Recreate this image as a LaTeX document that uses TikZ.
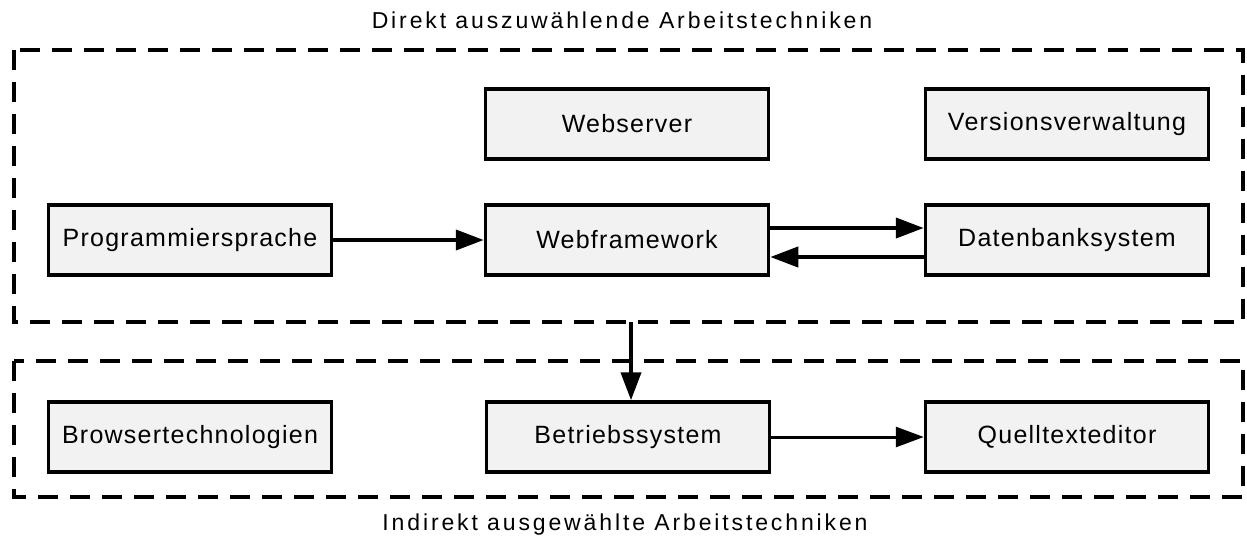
\documentclass[tikz,border=0pt]{standalone}
\usepackage{fontspec}
\setmainfont{Liberation Sans}
\newfontfamily\boxfont{Liberation Sans}[LetterSpace=5]
\newfontfamily\capfont{Liberation Sans}[LetterSpace=12.5]
\usetikzlibrary{arrows.meta}
\begin{document}
\begin{tikzpicture}[x=1pt,y=-1pt,
  box/.style={draw=black, line width=3.5pt, fill=black!5, rectangle,
    minimum width=283pt, minimum height=70pt, inner sep=0pt,
    font=\boxfont\fontsize{25}{30}\selectfont},
  group/.style={draw=black, line width=4pt, dash pattern=on 20pt off 12pt},
  heavy/.style={line width=4pt, -{Triangle[length=28pt,width=20pt]}},
  light/.style={line width=3pt, -{Triangle[length=28pt,width=20pt]}},
  caption/.style={font=\capfont\fontsize{23}{28}\selectfont, inner sep=0pt}]
\useasboundingbox (0,0) rectangle (1247,541);

% group frames
\draw[group] (14,50) rectangle (1243,322);
\draw[group] (14,361) rectangle (1243,497);
\node[caption] (ttop) at (622,20) {Direkt auszuwählende Arbeitstechniken};
\node[caption] (tbot) at (625,525) {Indirekt ausgewählte Arbeitstechniken};

% boxes of the upper group
\node[box] (webserver) at (627,124) {Webserver};
\node[box] (version) at (1067,124) {Versionsverwaltung};
\node[box] (prog) at (190,240) {Programmiersprache};
\node[box] (webfw) at (627,240) {Webframework};
\node[box] (db) at (1067,240) {Datenbanksystem};

% boxes of the lower group
\node[box] (browser) at (190,437) {Browsertechnologien};
\node[box] (os) at (628,437) {Betriebssystem};
\node[box] (editor) at (1067,437) {Quelltexteditor};

% connectors
\draw[heavy] (prog) -- (webfw);
\draw[heavy] ([yshift=12pt]webfw.east) -- ([yshift=12pt]db.west);
\draw[heavy] ([yshift=-17pt]db.west) -- ([yshift=-17pt]webfw.east);
\coordinate (gout) at (631,322);
\draw[heavy] (gout) -- (gout |- os.north);
\draw[light] (os) -- (editor);
\end{tikzpicture}
\end{document}
